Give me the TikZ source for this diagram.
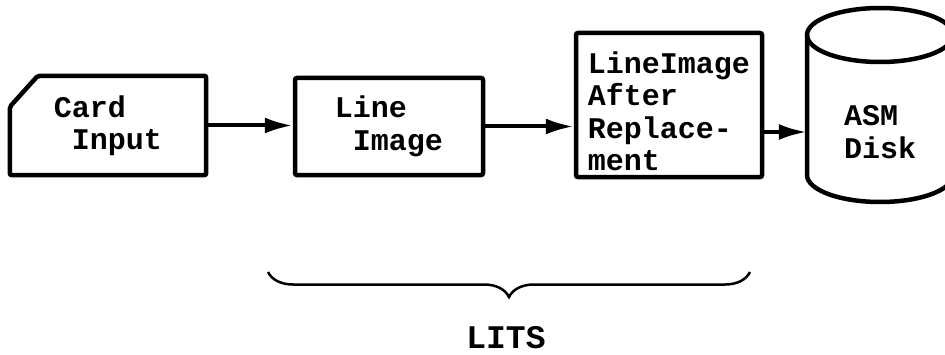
\documentclass[tikz,border=0pt]{standalone}
\usepackage{fontspec}
\setmonofont{Liberation Mono}
\usetikzlibrary{arrows.meta,calc,decorations.pathreplacing}
\begin{document}
\begin{tikzpicture}[x=1pt,y=1pt,
    txt/.style={font=\ttfamily\bfseries\fontsize{30}{32.5}\selectfont,align=left,inner sep=0pt},
    box/.style={txt,draw,line width=4.5pt,rounded corners=2pt},
    flow/.style={line width=4pt,-{Latex[length=28pt,width=16pt]}}]
  \clip (0,0) rectangle (945,354);

  % card input, corner cut off
  \node[txt,minimum width=196,minimum height=99] (card) at (108,228.5) {Card\\\ Input};
  \draw[line width=4.5pt,rounded corners=2pt]
    ($(card.north west)+(28,0)$) -- (card.north east) -- (card.south east)
    -- (card.south west) -- ($(card.north west)+(0,-31)$) -- cycle;

  \node[box,minimum width=188,minimum height=97] (line) at (389,227.5) {Line\\\ Image};
  \node[box,minimum width=186,minimum height=144] (after) at (669,249)
    {\rule{0pt}{34pt}LineImage\\After\\Replace-\\ment};

  % disk
  \node[txt,minimum width=146,minimum height=86] (disk) at (880,222) {ASM\\Disk};
  \draw[line width=4.5pt] (880,319) ellipse (73 and 27);
  \draw[line width=4.5pt] (807,319) -- (807,179)
    arc[start angle=180,end angle=360,x radius=73,y radius=27] -- (953,319);

  \draw[flow] (card.east) -- (card.east -| line.west);
  \draw[flow] (line.east) -- (line.east -| after.west);
  \draw[flow] (after.east |- disk.west) -- (disk.west);

  % brace
  \coordinate (bl) at (268,82);
  \coordinate (br) at (750,82);
  \draw[line width=2.5pt,decorate,decoration={brace,mirror,amplitude=25pt}] (bl) -- (br);
  \node[txt,font=\ttfamily\bfseries\fontsize{33}{35}\selectfont] (lits) at (506,16) {LITS};
\end{tikzpicture}
\end{document}
